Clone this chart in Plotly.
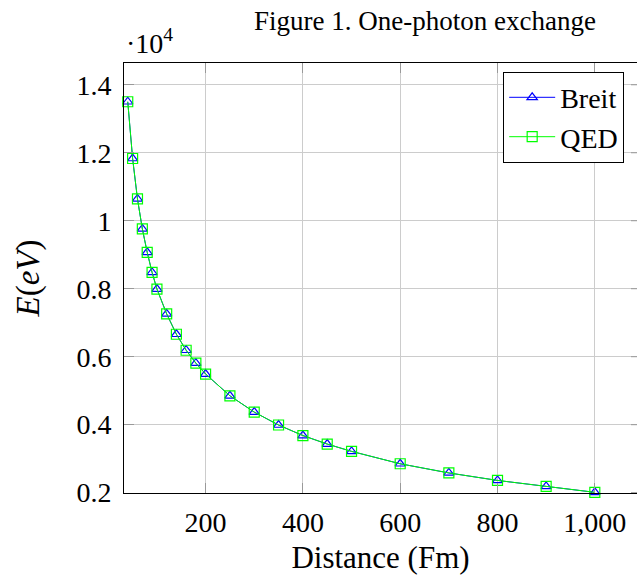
import plotly.graph_objects as go

# Data (distance in Fm, energy in eV)
distance = [40, 50, 60, 70, 80, 90, 100, 120, 140, 160, 180, 200, 250, 300,
            350, 400, 450, 500, 600, 700, 800, 900, 1000]
breit = [13500, 11830, 10640, 9760, 9070, 8480, 7990, 7260, 6660, 6190, 5810,
         5490, 4850, 4370, 3990, 3680, 3430, 3215, 2850, 2580, 2360, 2185, 2010]
qed = [13500, 11830, 10640, 9760, 9070, 8480, 7990, 7260, 6660, 6190, 5810,
       5490, 4850, 4370, 3990, 3680, 3430, 3215, 2850, 2580, 2360, 2185, 2010]

x_tickvals = [200, 400, 600, 800, 1000]
x_ticktext = ["200", "400", "600", "800", "1,000"]
y_tickvals = [2000, 4000, 6000, 8000, 10000, 12000, 14000]
y_ticktext = ["0.2", "0.4", "0.6", "0.8", "1", "1.2", "1.4"]

FONT = "Liberation Serif"
FS = 28

fig = go.Figure()
fig.add_trace(go.Scatter(
    x=distance, y=breit, name="Breit", mode="lines+markers",
    line=dict(color="#0000ff", width=1),
    marker=dict(symbol="triangle-up-open", size=9, color="#0000ff",
                line=dict(width=1.2, color="#0000ff")),
    cliponaxis=False,
))
fig.add_trace(go.Scatter(
    x=distance, y=qed, name="QED", mode="lines+markers",
    line=dict(color="#00ff00", width=1),
    marker=dict(symbol="square-open", size=10, color="#00ff00",
                line=dict(width=1.2, color="#00ff00")),
    cliponaxis=False,
))

# right-side inner ticks (axis is cropped on the right)
for v in y_tickvals:
    fig.add_shape(type="line", xref="paper", yref="y", x0=1 - 6 / 513, x1=1,
                  y0=v, y1=v, line=dict(color="#999999", width=1))

fig.update_layout(
    template="none",
    width=637, height=580,
    margin=dict(l=124, r=0, t=63, b=87),
    paper_bgcolor="white", plot_bgcolor="white",
    font=dict(family=FONT, size=FS, color="black"),
    title=dict(text="Figure 1. One-photon exchange", x=425 / 637, xanchor="center",
               y=1 - 21 / 580, yanchor="middle", font=dict(family=FONT, size=27)),
    showlegend=True,
    legend=dict(x=0.975, y=0.98, xanchor="right", yanchor="top",
                bgcolor="white", bordercolor="black", borderwidth=1,
                font=dict(family=FONT, size=FS), tracegroupgap=0, itemwidth=46),
    xaxis=dict(
        range=[32.3, 1086.7], tickvals=x_tickvals, ticktext=x_ticktext,
        ticks="inside", ticklen=10, tickcolor="#999999", tickwidth=1,
        showline=True, linecolor="black", linewidth=1, mirror="ticks",
        showgrid=True, gridcolor="#cccccc", gridwidth=1, zeroline=False,
        title=dict(text="Distance (Fm)", standoff=9, font=dict(family=FONT, size=31)),
        tickfont=dict(family=FONT, size=FS), ticklabelstandoff=4,
    ),
    yaxis=dict(
        range=[1990, 14640], tickvals=y_tickvals, ticktext=y_ticktext,
        ticks="inside", ticklen=10, tickcolor="#999999", tickwidth=1,
        showline=True, linecolor="black", linewidth=1,
        showgrid=True, gridcolor="#cccccc", gridwidth=1, zeroline=False,
        title=dict(text="<i>E</i>(<i>eV</i>)", standoff=26, font=dict(family=FONT, size=33)),
        tickfont=dict(family=FONT, size=FS), ticklabelstandoff=6,
    ),
)

fig.add_annotation(text="·10<sup>4</sup>", xref="paper", yref="paper",
                   x=0, y=1.005, xanchor="left", yanchor="bottom",
                   showarrow=False, font=dict(family=FONT, size=FS))

fig.write_html("out.html")
